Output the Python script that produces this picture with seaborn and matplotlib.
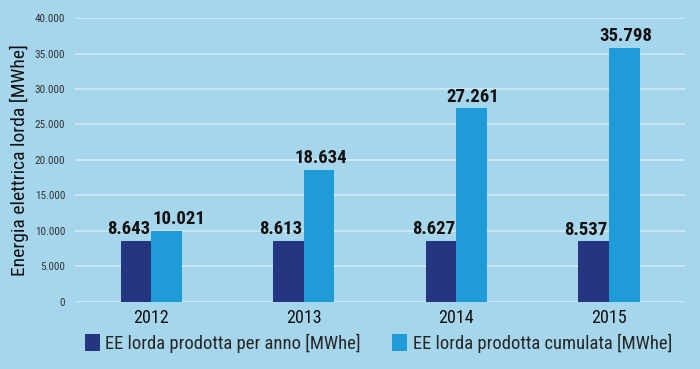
import numpy as np
import pandas as pd
import seaborn as sns
import matplotlib.pyplot as plt
from matplotlib.patches import Patch
from matplotlib.ticker import FuncFormatter

anni = ['2012', '2013', '2014', '2015']
per_anno = [8643, 8613, 8627, 8537]
cumulata = [10021, 18634, 27261, 35798]
serie = ['EE lorda prodotta per anno [MWhe]', 'EE lorda prodotta cumulata [MWhe]']
colori = ['#243680', '#1f9bd7']
sfondo = '#a6d6ec'


def punti(v):
    return f'{v:,.0f}'.replace(',', '.')


df = pd.DataFrame({
    'anno': anni * 2,
    'valore': per_anno + cumulata,
    'serie': [serie[0]] * 4 + [serie[1]] * 4,
})

sns.set_theme(style='white')
plt.rcParams['font.family'] = ['Roboto Condensed', 'Roboto', 'DejaVu Sans']

fig = plt.figure(figsize=(7, 3.69), dpi=100, facecolor=sfondo)
ax = fig.add_axes([0.107, 0.182, 0.872, 0.769])
ax.set_facecolor(sfondo)

sns.barplot(data=df, x='anno', y='valore', hue='serie', palette=colori,
            width=0.4, saturation=1, ax=ax, legend=False, linewidth=0, zorder=3)

# etichette: scure allineate a destra, chiare centrate (2012 spostata per non sovrapporsi)
scure, chiare = ax.containers[0], ax.containers[1]
for i, (b1, b2) in enumerate(zip(scure, chiare)):
    ax.annotate(punti(b1.get_height()), (b1.get_x() + b1.get_width(), b1.get_height()),
                xytext=(-1, 2), textcoords='offset points', ha='right', va='bottom',
                fontsize=13.5, fontweight='bold', color='#111111')
    if i == 0:
        x, ha = b2.get_x(), 'left'
    else:
        x, ha = b2.get_x() + b2.get_width() / 2, 'center'
    ax.annotate(punti(b2.get_height()), (x, b2.get_height()),
                xytext=(1, 2), textcoords='offset points', ha=ha, va='bottom',
                fontsize=13.5, fontweight='bold', color='#111111')

ax.set_xlim(-0.5, 3.5)
ax.set_ylim(0, 40000)
ax.set_yticks(np.arange(0, 40001, 5000))
ax.yaxis.set_major_formatter(FuncFormatter(lambda v, p: punti(v)))
ax.grid(axis='y', color='#cfe7f2', linewidth=1.3, zorder=0)
ax.set_axisbelow(True)
ax.tick_params(axis='y', length=0, labelsize=8, labelcolor='#333333', pad=7)
ax.tick_params(axis='x', length=0, labelsize=13, labelcolor='#111111', pad=5)
sns.despine(ax=ax, left=True, bottom=True)
ax.set_xlabel('')
ax.set_ylabel('Energia elettrica lorda [MWhe]', fontsize=14, color='#111111', labelpad=4)

handles = [Patch(facecolor=c, edgecolor='none') for c in colori]
fig.legend(handles, serie, loc='center left', bbox_to_anchor=(0.121, 0.07), ncol=2,
           frameon=False, fontsize=13.4, handlelength=0.8, handleheight=1.0,
           handletextpad=0.3, columnspacing=1.7, borderpad=0, borderaxespad=0)

fig.savefig('out.png', dpi=100, facecolor=sfondo)
